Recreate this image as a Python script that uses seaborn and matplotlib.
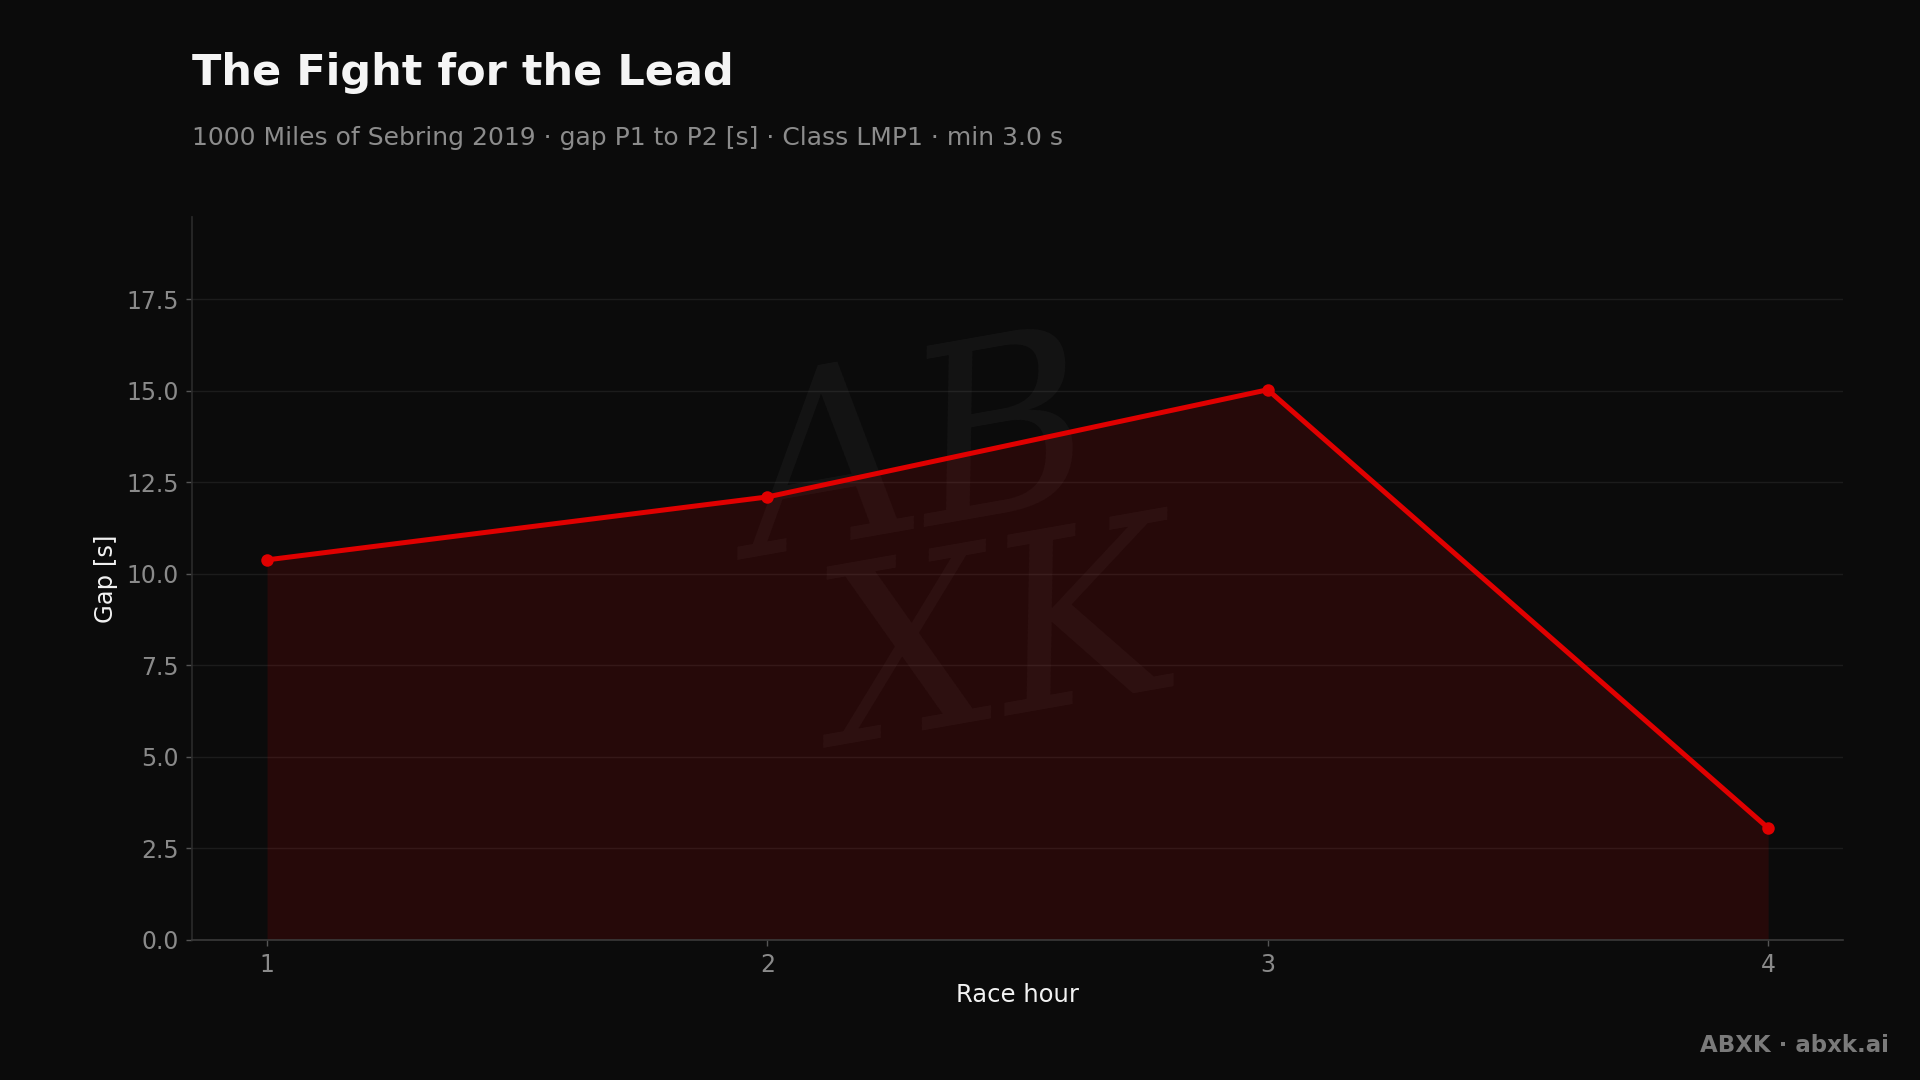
"""
Gap between P1 and P2 per race hour - dark themed chart
"""
import matplotlib
matplotlib.use('Agg')
import matplotlib.pyplot as plt
import seaborn as sns
import pandas as pd

# Data
race_hours = [1, 2, 3, 4]
gap_seconds = [10.38, 12.1, 15.03, 3.05]
y_ticks = [0.0, 2.5, 5.0, 7.5, 10.0, 12.5, 15.0, 17.5]

BG = '#0b0b0b'
RED = '#e00000'

sns.set_theme(style='dark', rc={
    'figure.facecolor': BG,
    'axes.facecolor': BG,
    'axes.edgecolor': '#333333',
    'axes.labelcolor': '#f2f2f2',
    'xtick.color': '#8a8a8a',
    'ytick.color': '#8a8a8a',
    'text.color': '#f2f2f2',
})
plt.rcParams['font.family'] = ['DejaVu Sans']

df = pd.DataFrame({'hour': race_hours, 'gap': gap_seconds})

fig = plt.figure(figsize=(19.2, 10.8), dpi=100)
ax = fig.add_axes([0.1, 0.13, 0.86, 0.669])

# Faint signature watermark
wm = dict(transform=ax.transAxes, ha='center', va='center', fontsize=175,
          style='italic', family='DejaVu Serif', color='#ffffff', alpha=0.04,
          rotation=10, zorder=0)
ax.text(0.44, 0.66, 'AB', **wm)
ax.text(0.49, 0.40, 'XK', **wm)

ax.fill_between(df['hour'], df['gap'], 0, color=RED, alpha=0.13, linewidth=0, zorder=1)
sns.lineplot(data=df, x='hour', y='gap', ax=ax, color=RED, linewidth=3.6,
             marker='o', markersize=9, markeredgewidth=0, zorder=3)

ax.set_xlim(0.85, 4.15)
ax.set_ylim(0, 19.75)
ax.set_xticks(race_hours)
ax.set_yticks(y_ticks)
ax.set_yticklabels([f'{v:.1f}' for v in y_ticks])
ax.tick_params(axis='both', labelsize=17, length=4.5, width=1, color='#555555', pad=5,
               left=True, bottom=True)
ax.grid(True, axis='y', color='#ffffff', alpha=0.07, linewidth=1)
ax.grid(False, axis='x')

ax.set_xlabel('Race hour', fontsize=17.5, labelpad=4.5)
ax.set_ylabel('Gap [s]', fontsize=17.5, labelpad=6)

for side in ['top', 'right']:
    ax.spines[side].set_visible(False)
ax.spines['left'].set_color('#2a2a2a')
ax.spines['bottom'].set_color('#3a3a3a')
ax.spines['bottom'].set_linewidth(1.2)

fig.text(0.1, 0.921, 'The Fight for the Lead', fontsize=31, fontweight='bold',
         color='#f5f5f5', ha='left', va='baseline')
fig.text(0.1, 0.866, '1000 Miles of Sebring 2019 \u00b7 gap P1 to P2 [s] \u00b7 Class LMP1 \u00b7 min 3.0 s',
         fontsize=18, color='#8c8c8c', ha='left', va='baseline')
fig.text(0.984, 0.026, 'ABXK \u00b7 abxk.ai', fontsize=16.5, fontweight='bold',
         color='#7a7a7a', ha='right', va='baseline')

plt.savefig('out.png', dpi=100, facecolor=BG)
